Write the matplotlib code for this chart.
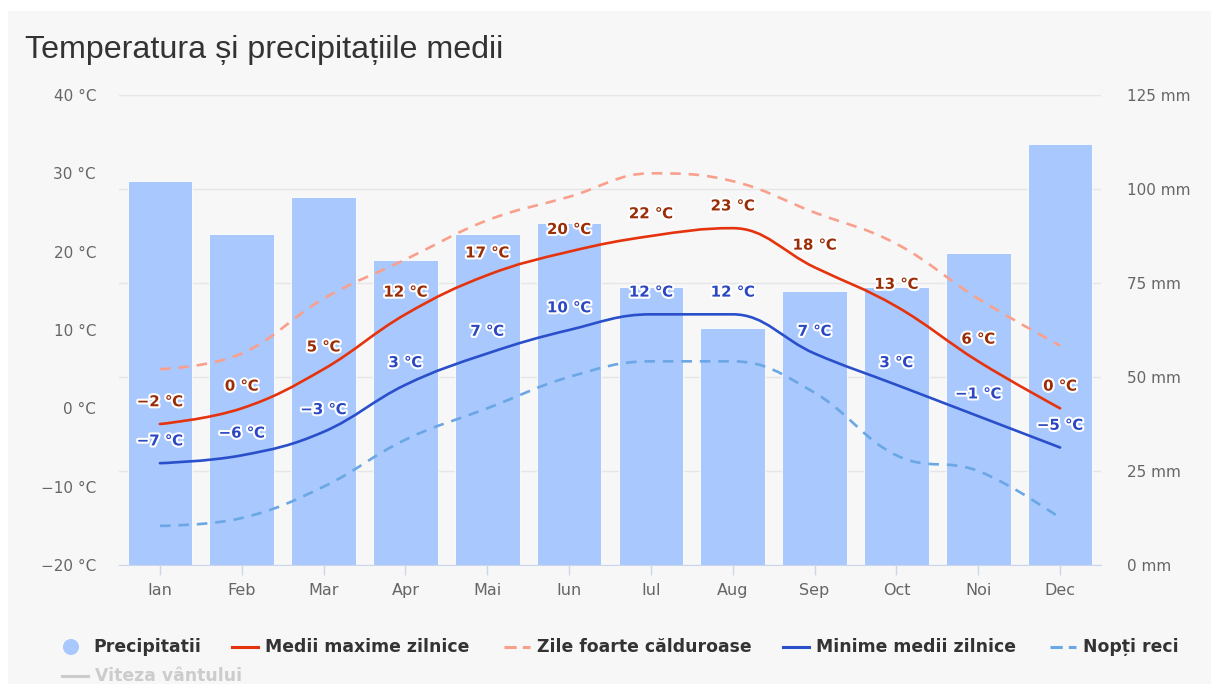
import matplotlib
matplotlib.use("Agg")
import matplotlib.pyplot as plt
from matplotlib.path import Path
from matplotlib.patches import PathPatch, Rectangle, Ellipse
from matplotlib.lines import Line2D
import matplotlib.patheffects as pe
import numpy as np

# ---------------- data ----------------
months = ["Ian", "Feb", "Mar", "Apr", "Mai", "Iun", "Iul", "Aug", "Sep", "Oct", "Noi", "Dec"]
precip_mm = [102, 88, 98, 81, 88, 91, 74, 63, 73, 74, 83, 112]
max_temp = [-2, 0, 5, 12, 17, 20, 22, 23, 18, 13, 6, 0]
hot_days = [5, 7, 14, 19, 24, 27, 30, 29, 25, 21, 14, 8]
min_temp = [-7, -6, -3, 3, 7, 10, 12, 12, 7, 3, -1, -5]
cold_nights = [-15, -14, -10, -4, 0, 4, 6, 6, 2, -6, -8, -14]

temp_ticks = [-20, -10, 0, 10, 20, 30, 40]
precip_ticks = [0, 25, 50, 75, 100, 125]

title = "Temperatura și precipitațiile medii"
legend_labels = ["Precipitatii", "Medii maxime zilnice", "Zile foarte călduroase",
                 "Minime medii zilnice", "Nopți reci"]
hidden_label = "Viteza vântului"

# ---------------- styles ----------------
W, H = 1211, 684
BG = "#f7f7f7"
BAR = "#a9c8fd"
RED = "#e5330e"
SALMON = "#f9a08c"
BLUE = "#2a4fca"
LBLUE = "#6aa7e4"
LBL_RED = "#9a2c06"
LBL_BLUE = "#2b48c2"
GRID = "#e6e6e6"
TXT = "#666666"


def px(x, y):
    return x / W, 1 - y / H


def spline_path(xs, ys):
    xs = list(map(float, xs)); ys = list(map(float, ys))
    n = len(xs)
    lc = [(xs[i], ys[i]) for i in range(n)]
    rc = [(xs[i], ys[i]) for i in range(n)]
    sm, den = 1.5, 2.5
    for i in range(1, n - 1):
        x, y = xs[i], ys[i]
        lx, ly = xs[i - 1], ys[i - 1]
        nx, ny = xs[i + 1], ys[i + 1]
        lcx = (sm * x + lx) / den; lcy = (sm * y + ly) / den
        rcx = (sm * x + nx) / den; rcy = (sm * y + ny) / den
        if rcx != lcx:
            corr = ((rcy - lcy) * (rcx - x)) / (rcx - lcx) + y - rcy
            lcy += corr; rcy += corr
        if lcy > ly and lcy > y:
            lcy = max(ly, y); rcy = 2 * y - lcy
        elif lcy < ly and lcy < y:
            lcy = min(ly, y); rcy = 2 * y - lcy
        if rcy > ny and rcy > y:
            rcy = max(ny, y); lcy = 2 * y - rcy
        elif rcy < ny and rcy < y:
            rcy = min(ny, y); lcy = 2 * y - rcy
        lc[i] = (lcx, lcy); rc[i] = (rcx, rcy)
    verts = [(xs[0], ys[0])]
    codes = [Path.MOVETO]
    for i in range(n - 1):
        verts += [rc[i], lc[i + 1], (xs[i + 1], ys[i + 1])]
        codes += [Path.CURVE4] * 3
    return Path(verts, codes)


fig = plt.figure(figsize=(W / 100, H / 100), dpi=100)
fig.patch.set_facecolor("white")
fig.patches.append(Rectangle(px(8, 684), (W - 8) / W, (684 - 11) / H, transform=fig.transFigure,
                             facecolor=BG, edgecolor="none", zorder=-10))

left, right, top, bottom = 119, 1101, 95, 565
axp = fig.add_axes([left / W, 1 - bottom / H, (right - left) / W, (bottom - top) / H])
axp.set_facecolor("none")
axt = axp.twinx()

x = np.arange(len(months))

# precipitation bars (primary axes, right-side labels)
axp.bar(x, precip_mm, width=0.79, color=BAR, edgecolor="white", linewidth=0.6, zorder=2)
axp.set_ylim(0, 125)
axp.set_xlim(-0.5, len(months) - 0.5)
axp.set_yticks(precip_ticks)
axp.set_yticklabels([f"{v} mm" for v in precip_ticks])
axp.yaxis.tick_right()
axp.grid(axis="y", color=GRID, linewidth=1, zorder=0)
axp.set_axisbelow(True)
axp.tick_params(axis="y", length=0, pad=18.5, labelsize=11, labelcolor=TXT)
for lab in axp.get_yticklabels():
    lab.set_horizontalalignment("left")
axp.set_xticks(x)
axp.set_xticklabels(months)
axp.tick_params(axis="x", length=7, width=1, color="#ccd6eb", pad=6, labelsize=11.5, labelcolor=TXT)
for s in ["top", "left", "right"]:
    axp.spines[s].set_visible(False)
axp.spines["bottom"].set_color("#ccd6eb")

# temperature axis
axt.set_ylim(temp_ticks[0], temp_ticks[-1])
axt.set_yticks(temp_ticks)
axt.set_yticklabels([f"{v} °C".replace("-", "\u2212") for v in temp_ticks])
axt.yaxis.tick_left()
axt.tick_params(axis="y", length=0, pad=16.5, labelsize=11, labelcolor=TXT)
for s in axt.spines.values():
    s.set_visible(False)

series = [
    (hot_days, SALMON, (4, 3)),
    (cold_nights, LBLUE, (4, 3)),
    (max_temp, RED, None),
    (min_temp, BLUE, None),
]
for vals, col, dash in series:
    p = PathPatch(spline_path(x, vals), fill=False, edgecolor=col, linewidth=1.9,
                  capstyle="round", joinstyle="round", zorder=3)
    if dash is not None:
        p.set_linestyle((0, dash))
        p.set_capstyle("butt")
    axt.add_patch(p)

stroke = [pe.withStroke(linewidth=3, foreground="white")]
for vals, col in [(max_temp, LBL_RED), (min_temp, LBL_BLUE)]:
    for xi, v in zip(x, vals):
        axt.annotate(f"{v} ℃".replace("-", "\u2212"), (xi, v), xytext=(0, 16),
                     textcoords="offset points", ha="center", va="center",
                     fontsize=10.8, fontweight="bold", color=col,
                     path_effects=stroke, zorder=5)

# title
fig.text(*px(25, 50), title, fontsize=23.2, color="#333333", va="center", ha="left",
         family=["Liberation Sans", "DejaVu Sans"])

# legend (manual)
LFONT = ["DejaVu Sans"]
LSIZE = 12.4
ly = 647
fig.patches.append(Ellipse(px(71, ly), 16 / W, 16 / H, transform=fig.transFigure,
                           facecolor=BAR, edgecolor="none"))
fig.text(*px(93, ly), legend_labels[0], fontsize=LSIZE, fontweight="bold", color="#333333",
         va="center", ha="left", family=LFONT)
items = [(232, 265, RED, None, legend_labels[1]),
         (504, 537, SALMON, (4, 2), legend_labels[2]),
         (783, 816, BLUE, None, legend_labels[3]),
         (1050, 1083, LBLUE, (4, 2), legend_labels[4])]
for x0, tx, col, dash, lab in items:
    ln = Line2D([x0 / W, (x0 + 26) / W], [1 - ly / H, 1 - ly / H], transform=fig.transFigure,
                color=col, linewidth=2.2)
    if dash is not None:
        ln.set_dashes(dash)
    fig.lines.append(ln)
    fig.text(*px(tx, ly), lab, fontsize=LSIZE, fontweight="bold", color="#333333",
             va="center", ha="left", family=LFONT)
ly2 = 676
fig.lines.append(Line2D([62 / W, 88 / W], [1 - ly2 / H, 1 - ly2 / H], transform=fig.transFigure,
                        color="#cccccc", linewidth=2.2))
fig.text(*px(95, ly2), hidden_label, fontsize=LSIZE, fontweight="bold", color="#cccccc",
         va="center", ha="left", family=LFONT)

fig.savefig("out.png", dpi=100, facecolor="white")
